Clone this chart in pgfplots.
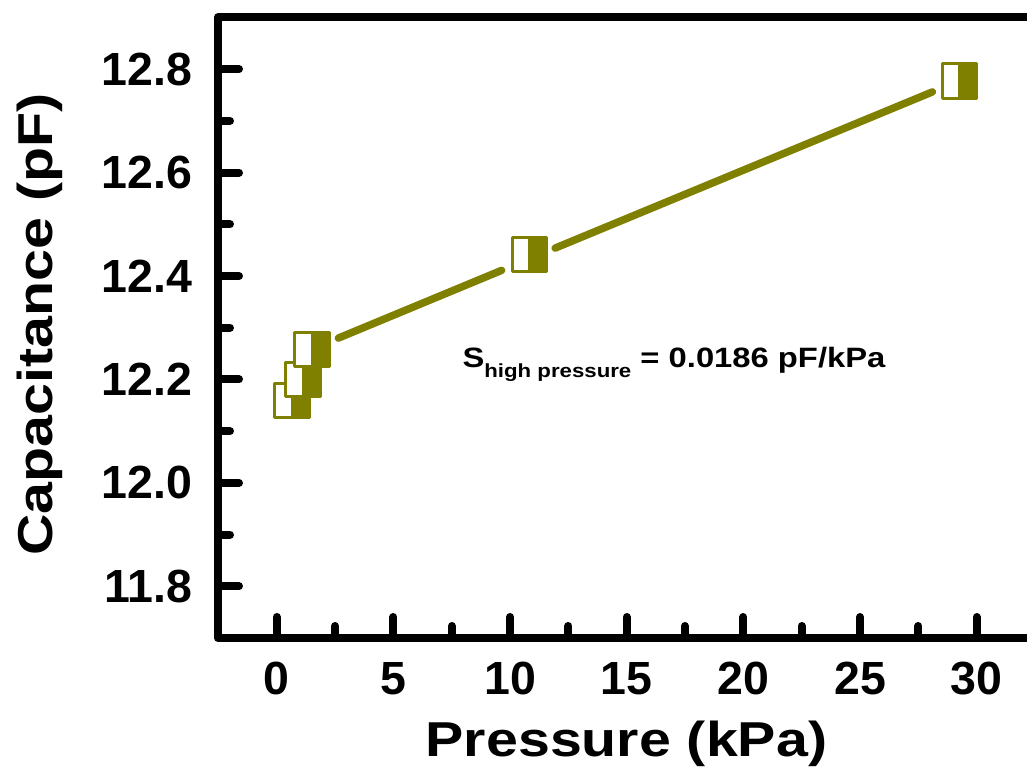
\documentclass[border=0pt]{standalone}
\usepackage{pgfplots}
\pgfplotsset{compat=1.18}
\usepackage{fontspec}
\setmainfont{Liberation Sans}
\newfontfamily\widefont[FakeStretch=1.17]{Liberation Sans}
\usetikzlibrary{calc}
\definecolor{ol}{RGB}{128,128,0}

% half filled square, white left / olive right
\pgfdeclareplotmark{halfsq}{%
  \pgfpathrectangle{\pgfpoint{-\pgfplotmarksize}{-\pgfplotmarksize}}{\pgfpoint{2\pgfplotmarksize}{2\pgfplotmarksize}}%
  \pgfsetfillcolor{white}\pgfusepath{fill}%
  \pgfpathrectangle{\pgfpoint{0pt}{-\pgfplotmarksize}}{\pgfpoint{\pgfplotmarksize}{2\pgfplotmarksize}}%
  \pgfsetfillcolor{ol}\pgfusepath{fill,stroke}%
  \pgfpathrectangle{\pgfpoint{-\pgfplotmarksize}{-\pgfplotmarksize}}{\pgfpoint{2\pgfplotmarksize}{2\pgfplotmarksize}}%
  \pgfusepath{stroke}%
}

\begin{document}
\begin{tikzpicture}
\begin{axis}[
name=ax,
scale only axis,
width=326.8pt,
height=248.2pt,
xmin=-2.52, xmax=32.5,
ymin=11.7, ymax=12.9,
xtick={0,5,10,15,20,25,30},
ytick={11.8,12,12.2,12.4,12.6,12.8},
minor tick num=1,
xtick pos=lower, ytick pos=left,
tick align=inside,
major tick length=8.4pt,
minor tick length=4.8pt,
every tick/.style={line width=3.2pt, line cap=round, black},
axis line style={line width=3.2pt, line join=round},
/pgf/number format/assume math mode=true,
yticklabel style={/pgf/number format/fixed, /pgf/number format/fixed zerofill, /pgf/number format/precision=1},
tick label style={font=\fontsize{18.6}{20}\selectfont\bfseries},
yticklabel style={inner sep=0pt, xshift=-10pt},
xticklabel style={inner sep=0pt, yshift=-9.6pt},
xlabel={Pressure (kPa)},
ylabel={Capacitance (pF)},
label style={font=\widefont\bfseries\fontsize{19.6}{22}\selectfont},
xlabel style={at={(axis description cs:0.5,-0.1918)}, anchor=base},
ylabel style={at={(axis description cs:-0.202,0.505)}, anchor=base},
clip=false
]
% fitted line, broken round the 10.8 kPa point
\addplot[ol, line width=3pt, line cap=round] coordinates {(2.64,12.280) (9.64,12.411)};
\addplot[ol, line width=3pt, line cap=round] coordinates {(11.93,12.454) (28.1,12.756)};
\addplot[only marks, mark=halfsq, mark size=6.9pt, ol, line width=1.2pt, line join=round]
  coordinates {(0.66,12.159) (1.13,12.200) (1.51,12.258) (10.83,12.442) (29.26,12.777)};
\node[anchor=base west, inner sep=0pt, font=\widefont\bfseries\fontsize{11.2}{14}\selectfont]
  at (axis cs:7.94,12.224) {S\raisebox{-4pt}{\fontsize{7.6}{8}\selectfont high pressure} = 0.0186 pF/kPa};
\end{axis}
\pgfresetboundingbox
\path[use as bounding box] ($(ax.south west)+(-87.2pt,-54pt)$) rectangle ($(ax.north west)+(323.6pt,7pt)$);
\end{tikzpicture}
\end{document}
